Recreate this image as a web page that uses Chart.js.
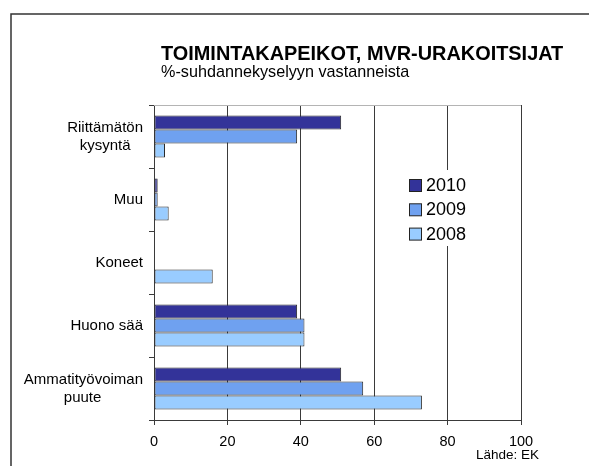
<!DOCTYPE html>
<html>
<head>
<meta charset="utf-8">
<script src="https://cdn.jsdelivr.net/npm/chart.js@4"></script>
<style>
  html, body { margin: 0; padding: 0; background: #fff; }
  #wrap { width: 589px; height: 466px; position: relative; }
</style>
</head>
<body>
<div id="wrap"><canvas id="c"></canvas></div>
<script>
const FONT = "'Liberation Sans', Arial, sans-serif";

// Category labels (trailing spaces centre the second line under the first)
const CATEGORIES = [
  ['Riittämätön', 'kysyntä   '],
  'Muu',
  'Koneet',
  'Huono sää',
  ['Ammatityövoiman', 'puute          '],
];

const SERIES_NAMES = ['2010', '2009', '2008'];
const VALUES_2010 = [51, 1, 0, 39, 51];
const VALUES_2009 = [39, 1, 0, 41, 57];
const VALUES_2008 = [3, 4, 16, 41, 73];

const X_TICKS = [0, 20, 40, 60, 80, 100];

const TITLE = 'TOIMINTAKAPEIKOT, MVR-URAKOITSIJAT';
const SUBTITLE = '%-suhdannekyselyyn vastanneista';
const SOURCE = 'Lähde: EK';

const COLORS = ['#333399', '#6fa1f0', '#99ccff'];

// frame, titles, top line of plot, legend
const decorPlugin = {
  id: 'decor',
  afterDraw(chart) {
    const { ctx, chartArea } = chart;
    ctx.save();

    // outer frame (runs off the right and bottom edges)
    ctx.strokeStyle = '#333';
    ctx.lineWidth = 1.5;
    ctx.beginPath();
    ctx.moveTo(11, 466);
    ctx.lineTo(11, 14);
    ctx.lineTo(589, 14);
    ctx.stroke();

    // light top border of the plot area
    ctx.strokeStyle = '#b4b4b4';
    ctx.lineWidth = 1;
    ctx.beginPath();
    ctx.moveTo(chartArea.left, chartArea.top + 0.5);
    ctx.lineTo(chartArea.right, chartArea.top + 0.5);
    ctx.stroke();

    ctx.fillStyle = '#000';
    ctx.textAlign = 'left';
    ctx.textBaseline = 'alphabetic';
    ctx.font = 'bold 19.9px ' + FONT;
    ctx.fillText(TITLE, 161, 60);
    ctx.font = '16.2px ' + FONT;
    ctx.fillText(SUBTITLE, 161, 77);
    ctx.font = '13.5px ' + FONT;
    ctx.fillText(SOURCE, 476, 459);

    // legend on a white patch inside the plot
    ctx.fillStyle = '#fff';
    ctx.fillRect(400, 170, 80, 76);
    chart.data.datasets.forEach((ds, i) => {
      const y = 179 + i * 24.3;
      ctx.fillStyle = ds.backgroundColor;
      ctx.fillRect(409.5, y + 0.5, 12, 12);
      ctx.strokeStyle = '#222';
      ctx.lineWidth = 1;
      ctx.strokeRect(409.5, y + 0.5, 12, 12);
      ctx.fillStyle = '#000';
      ctx.font = '18px ' + FONT;
      ctx.textBaseline = 'middle';
      ctx.fillText(ds.label, 426, y + 7);
    });

    ctx.restore();
  },
};

const datasets = [VALUES_2010, VALUES_2009, VALUES_2008].map((vals, i) => ({
  label: SERIES_NAMES[i],
  data: vals,
  backgroundColor: COLORS[i],
  borderColor: '#2a2a2a',
  borderWidth: 1,
  borderSkipped: false,
  barPercentage: 1,
  categoryPercentage: 0.667,
}));

new Chart(document.getElementById('c'), {
  type: 'bar',
  data: { labels: CATEGORIES, datasets },
  options: {
    indexAxis: 'y',
    responsive: true,
    maintainAspectRatio: false,
    animation: false,
    layout: { padding: { left: 0, right: 68, top: 105, bottom: 0 } },
    plugins: {
      legend: { display: false },
      tooltip: { enabled: false },
    },
    scales: {
      x: {
        min: 0,
        max: 100,
        afterBuildTicks: s => { s.ticks = X_TICKS.map(v => ({ value: v })); },
        afterFit: s => { s.height = 46; },
        ticks: { color: '#000', font: { family: FONT, size: 14.5 }, padding: 8 },
        grid: { color: '#3a3a3a', lineWidth: 1, tickLength: 5, tickColor: '#3a3a3a' },
        border: { color: '#3a3a3a', width: 1 },
      },
      y: {
        afterFit: s => { s.width = 154; },
        ticks: { color: '#000', font: { family: FONT, size: 15, lineHeight: 1.2 }, padding: 6 },
        grid: { drawOnChartArea: false, offset: true, tickLength: 5, tickColor: '#3a3a3a' },
        border: { color: '#3a3a3a', width: 1 },
      },
    },
  },
  plugins: [decorPlugin],
});
</script>
</body>
</html>
